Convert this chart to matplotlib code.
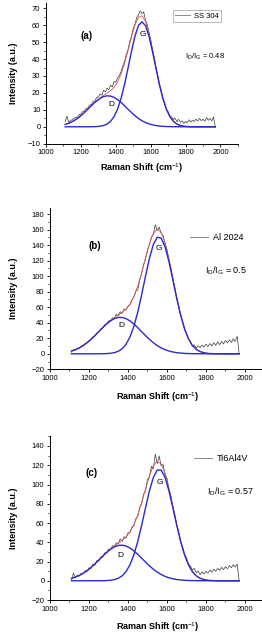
import matplotlib
matplotlib.use('Agg')
import matplotlib.pyplot as plt
from matplotlib.ticker import MultipleLocator
import numpy as np

plt.rcParams['font.family'] = ['Liberation Sans', 'DejaVu Sans']
plt.rcParams['mathtext.fontset'] = 'custom'
plt.rcParams['mathtext.rm'] = 'Liberation Sans'
plt.rcParams['mathtext.it'] = 'Liberation Sans'

# raman shift grids (cm-1)
raw_x = np.arange(1110, 1971, 10)
fit_x = np.arange(1110, 1971, 20)

# (a) SS 304
raw_a = [3.0, 6.2, 2.5, 3.8, 4.1, 4.9, 5.6, 5.3, 7.0, 7.6, 8.9, 9.3, 10.8, 11.2, 12.9,
         13.1, 15.0, 15.2, 17.3, 17.6, 19.4, 18.7, 21.5, 20.6, 22.8, 21.9, 24.6, 23.5,
         26.8, 26.3, 28.9, 30.1, 32.6, 35.9, 38.4, 42.7, 45.5, 50.3, 53.4, 58.1, 60.7,
         64.6, 66.2, 68.5, 66.8, 67.9, 62.8, 60.5, 55.9, 51.6, 45.9, 41.2, 35.0, 30.8,
         25.1, 21.4, 16.5, 14.1, 10.2, 8.9, 6.4, 5.8, 4.2, 5.1, 3.0, 4.4, 2.6, 3.5, 1.9,
         3.2, 2.4, 4.1, 2.8, 3.9, 3.1, 4.6, 3.3, 5.0, 3.6, 4.5, 3.2, 5.4, 3.8, 4.9, 3.5,
         5.8, 0.0]
d_a = [1.40, 2.09, 3.02, 4.22, 5.70, 7.43, 9.37, 11.41, 13.42, 15.27, 16.78, 17.82,
       18.28, 18.12, 17.36, 16.07, 14.38, 12.43, 10.38, 8.38, 6.53, 4.92, 3.59, 2.52,
       1.72, 1.13, 0.72, 0.44, 0.26, 0.15, 0.08, 0.04, 0.02, 0.01, 0, 0, 0, 0, 0, 0,
       0, 0, 0, 0]
g_a = [0, 0, 0, 0, 0, 0, 0, 0.02, 0.05, 0.13, 0.32, 0.75, 1.61, 3.22, 5.99, 10.36,
       16.65, 24.88, 34.56, 44.63, 53.57, 59.77, 62.0, 59.77, 53.57, 44.63, 34.56,
       24.88, 16.65, 10.36, 5.99, 3.22, 1.61, 0.75, 0.32, 0.13, 0.05, 0.02, 0, 0, 0,
       0, 0, 0]

# (b) Al 2024
raw_b = [2.0, 5.1, 4.6, 7.2, 6.9, 9.8, 10.1, 13.2, 13.8, 17.1, 18.0, 21.9, 22.6, 26.8,
         27.9, 32.0, 33.1, 37.4, 37.9, 42.5, 41.8, 46.3, 45.2, 51.0, 48.6, 54.2, 52.1,
         57.8, 56.4, 61.5, 63.2, 69.1, 72.8, 80.6, 82.4, 94.7, 103.2, 114.8, 122.6,
         133.9, 140.8, 150.2, 154.1, 166.3, 158.9, 163.1, 155.2, 152.0, 141.9, 134.1,
         121.4, 110.8, 96.7, 85.5, 71.8, 61.6, 49.7, 41.8, 31.9, 26.3, 18.9, 15.2, 9.8,
         11.6, 7.2, 10.4, 8.1, 11.3, 8.6, 12.5, 9.4, 13.1, 10.2, 14.3, 11.0, 15.2, 11.8,
         16.0, 12.7, 17.2, 13.9, 18.1, 14.6, 19.4, 15.8, 22.6, 0.0]
d_b = [3.55, 5.28, 7.60, 10.57, 14.24, 18.55, 23.38, 28.51, 33.63, 38.39, 42.39, 45.28,
       46.81, 46.81, 45.28, 42.39, 38.39, 33.63, 28.51, 23.38, 18.55, 14.24, 10.57,
       7.60, 5.28, 3.55, 2.31, 1.46, 0.89, 0.52, 0.30, 0.16, 0.09, 0.04, 0.02, 0, 0,
       0, 0, 0, 0, 0, 0, 0]
g_b = [0, 0, 0, 0, 0, 0, 0, 0, 0.09, 0.25, 0.64, 1.49, 3.23, 6.52, 12.29, 21.55, 35.20,
       53.55, 75.86, 100.1, 123.0, 140.8, 150.1, 149.1, 137.9, 118.7, 95.25, 71.15,
       49.51, 32.09, 19.36, 10.89, 5.69, 2.78, 1.26, 0.53, 0.21, 0.08, 0.03, 0, 0, 0,
       0, 0]

# (c) Ti6Al4V
raw_c = [0.0, 8.1, 3.2, 5.9, 4.8, 8.0, 7.1, 10.4, 9.6, 13.5, 12.8, 17.2, 16.1, 21.0,
         20.3, 24.9, 24.2, 29.1, 28.4, 33.0, 32.1, 36.5, 35.3, 39.4, 38.0, 43.6, 40.9,
         45.8, 44.3, 49.9, 50.1, 55.7, 57.0, 64.3, 66.9, 76.2, 79.8, 90.1, 93.7, 105.2,
         107.4, 118.9, 116.3, 131.5, 121.8, 129.6, 119.4, 120.8, 110.2, 106.3, 94.9,
         88.6, 76.4, 69.1, 57.5, 50.6, 40.2, 35.1, 27.9, 23.8, 17.6, 15.4, 11.2, 12.9,
         8.3, 10.1, 6.4, 9.2, 7.0, 9.8, 7.9, 11.2, 8.8, 12.0, 9.9, 12.8, 10.7, 13.9,
         11.6, 14.8, 12.4, 15.9, 13.5, 16.8, 14.2, 17.4, 0.0]
d_c = [2.52, 3.78, 5.48, 7.69, 10.44, 13.71, 17.42, 21.42, 25.48, 29.33, 32.65, 35.18,
       36.66, 36.96, 36.06, 34.03, 31.07, 27.45, 23.46, 19.40, 15.52, 12.01, 8.99,
       6.52, 4.57, 3.10, 2.03, 1.29, 0.79, 0.47, 0.27, 0.15, 0.08, 0.04, 0.02, 0.01,
       0, 0, 0, 0, 0, 0, 0, 0]
g_c = [0, 0, 0, 0, 0, 0, 0, 0.03, 0.08, 0.21, 0.52, 1.19, 2.55, 5.10, 9.50, 16.54,
       26.86, 40.70, 57.54, 75.90, 93.43, 107.3, 115.0, 115.0, 107.3, 93.43, 75.90,
       57.54, 40.70, 26.86, 16.54, 9.50, 5.10, 2.55, 1.19, 0.52, 0.21, 0.08, 0.03, 0,
       0, 0, 0, 0]

samples = ['SS 304', 'Al 2024', 'Ti6Al4V']
ratios = ['0.48', '0.5', '0.57']
letters = ['(a)', '(b)', '(c)']

fig = plt.figure(figsize=(2.62, 6.35), dpi=100)


def panel(rect, raw, d, g, ylim, ystep, name, letter, ratio, leg, rpos, lpos,
          dpos, gpos, small_sub=True, leg_frame=False, leg_size=6.5, r_size=6.5):
    ax = fig.add_axes(rect)
    ax.plot(raw_x, raw, color='#3a3a3a', lw=0.5)
    ax.plot(fit_x, np.array(d) + np.array(g), color='#d85050', lw=0.6)
    ax.plot(fit_x, d, color='#2a2ad0', lw=1.0)
    ax.plot(fit_x, g, color='#2a2ad0', lw=1.0)

    ax.set_xlim(1000, 2100)
    ax.set_ylim(*ylim)
    ax.xaxis.set_major_locator(MultipleLocator(200))
    ax.xaxis.set_minor_locator(MultipleLocator(100))
    ax.yaxis.set_major_locator(MultipleLocator(ystep))
    ax.yaxis.set_minor_locator(MultipleLocator(ystep / 2))
    for s in ['top', 'right']:
        ax.spines[s].set_visible(False)
    for s in ['left', 'bottom']:
        ax.spines[s].set_linewidth(0.7)
    ax.tick_params(which='major', direction='out', length=2.5, width=0.6,
                   labelsize=5.5, pad=1.5)
    ax.tick_params(which='minor', direction='out', length=1.3, width=0.5)
    ax.patch.set_alpha(0)

    ax.set_xlabel('Raman Shift (cm$^{-1}$)', fontsize=6.5, fontweight='bold')
    ax.set_ylabel('Intensity (a.u.)', fontsize=6.5, fontweight='bold')

    ax.text(lpos[0], lpos[1], letter, transform=ax.transAxes, fontsize=7,
            fontweight='bold', ha='center', va='center')
    ax.text(dpos[0], dpos[1], 'D', fontsize=6, ha='center', va='center')
    ax.text(gpos[0], gpos[1], 'G', fontsize=6, ha='center', va='center')
    if small_sub:
        label = r'I$_{\mathregular{D}}$/I$_{\mathregular{G}}$ = ' + ratio
    else:
        label = r'I$_\mathregular{D}$/I$_\mathregular{G}$ = ' + ratio
    ax.text(rpos[0], rpos[1], label, transform=ax.transAxes, fontsize=r_size,
            ha='left', va='center')

    h, = ax.plot([], [], color='#8a8a8a', lw=0.7)
    lg = ax.legend([h], [name], loc='upper left', bbox_to_anchor=leg,
                   frameon=leg_frame, fancybox=False, fontsize=leg_size,
                   handlelength=2.0, handletextpad=0.5, borderpad=0.3,
                   borderaxespad=0)
    if leg_frame:
        lg.get_frame().set_edgecolor('#9a9a9a')
        lg.get_frame().set_linewidth(0.6)
    return ax


ax_a = panel([0.1756, 0.7737, 0.7325, 0.2213], raw_a, d_a, g_a, (-10, 73), 10,
             samples[0], letters[0], ratios[0], (0.66, 0.95), (0.724, 0.617),
             (0.212, 0.767), (1372, 12.9), (1557, 54.6), leg_frame=True,
             leg_size=5.5, r_size=5.5)
ax_a.xaxis.set_label_coords(0.5, -0.125)
ax_a.yaxis.set_label_coords(-0.146, 0.5)

ax_b = panel([0.1908, 0.4184, 0.8187, 0.2543], raw_b, d_b, g_b, (-20, 188), 20,
             samples[1], letters[1], ratios[1], (0.64, 0.86), (0.723, 0.609),
             (0.207, 0.763), (1368, 37), (1560, 136), small_sub=False)
ax_b.xaxis.set_label_coords(0.5, -0.128)
ax_b.yaxis.set_label_coords(-0.149, 0.5)

ax_c = panel([0.1908, 0.0551, 0.8187, 0.2577], raw_c, d_c, g_c, (-20, 150), 20,
             samples[2], letters[2], ratios[2], (0.66, 0.91), (0.732, 0.662),
             (0.194, 0.778), (1362, 26), (1564, 102))
ax_c.xaxis.set_label_coords(0.5, -0.122)
ax_c.yaxis.set_label_coords(-0.149, 0.5)

fig.savefig('out.png', dpi=100)
